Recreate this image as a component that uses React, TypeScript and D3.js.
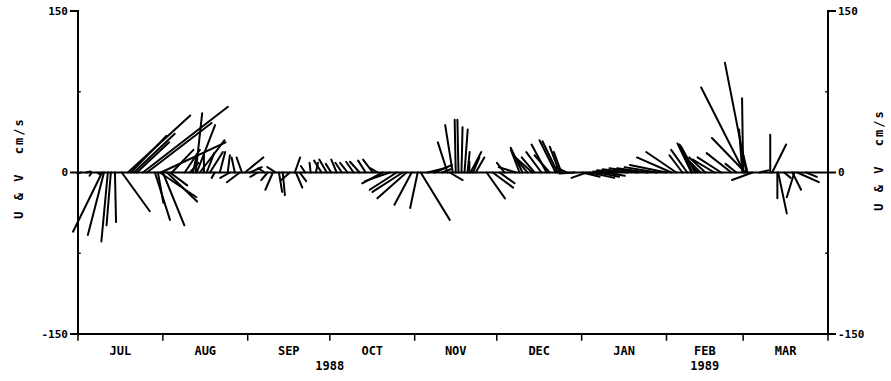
import React from "react";
import * as d3 from "d3";

// Stick plot data: day offset from 1 Jul 1988, east (u) and north (v) components in cm/s
const days = [1, 3, 5, 7, 8.8, 9.5, 10.9, 12, 13.5, 16, 18.2, 19.3, 20.4, 21.5, 23.7, 25.2, 28.1, 29.2, 29.9, 30.3, 31, 32.5, 33.6, 34.3,
  39, 40.9, 42, 43, 43.4, 44.5, 46, 47, 48.2, 50, 51.8, 54.7, 55.5, 57.3, 59.1, 59.9, 61, 62.8,
  65.7, 68.2, 69.3, 71.2, 72.3, 73.4, 74.8, 77.4, 79.2, 79.6, 81, 83, 85, 86.9, 89, 90.9,
  92.5, 94.5, 96.4, 98.5, 100.7, 102.9, 105.1, 107.7, 109.5, 111.3, 113.9, 116.4, 118.6, 120, 121.9, 124.1, 125.2,
  127.7, 130.3, 133, 135, 135.8, 136.9, 138, 139, 140.1, 141.2, 142.3, 143, 143.4, 144.3, 145.3,
  149.3, 151.5, 154, 155.8, 160, 161.3, 162.4, 164.2, 166, 166.8, 169.3, 171.2, 172.3, 174.5, 175.2, 175.9, 176.6, 178.5,
  181.4, 184.3, 185.8, 186.9, 189.8, 192.3, 194.5, 197.1, 200.7, 204.4, 208, 211.5,
  215, 216.8, 218.6, 220.8, 222.6, 224.1, 224.5, 225.5, 226.3, 227.4, 229.2, 232.5, 235, 238.7, 240.5, 242.7, 243, 243.4, 243.8, 244.2, 244.6, 246.4,
  249, 252.9, 253.6, 255.5, 255.8, 258, 261, 261.7, 262.8, 266];
const uVals = [-3, 4, -2, 3, -27, -15, -6, -4, 1, 26, 58, 33, 38, 30, 79, 60, 14, 5, 34, 60, 20, 28, 16, 20,
  14, 8, 3, 6, 17, 23, 0, 7, 12, -3, 5, 2, -9, -3, -12, -5, 17, 11,
  -7, -6, -6, -7, -8, 3, 2, -8, 5, 6, 6, -4, -1, 2, -7, -7,
  -5, -5, -6, -7, -7, -9, -7, -9, -7, -19, -23, -25, -28, -27, -16, -7, 27,
  16, 16, 8, -9, 12, -7, -1, -1, 1, 3, 2, 0, 10, 6, 8,
  17, 19, 14, -7, -16, -8, -11, -10, -17, -12, -14, -14, -14, -15, -14, -9, -7, -10,
  -14, 16, -14, 23, 20, 19, -16, -19, -23, -26, -28, -30,
  -34, -32, -28, -12, -15, -13, -12, -13, -12, -12, -15, -20, -22, -23, -10, -3, -1, -40, -31, -20, -5, -19,
  8, 0, 13, 0, 8, 6, 8, -7, 20, 10];
const vVals = [-1, 1, -3, -2, -55, -58, -64, -49, -46, -36, 53, 34, 36, 28, 61, 46, -44, -28, -23, 28, -49, -27, -12, 21,
  21, 9, 14, 55, 44, 30, 16, 18, 19, -5, 19, 16, -5, 14, -9, 14, 14, 5,
  -4, 4, -7, -16, 5, -18, -21, -7, 14, -14, -8, 6, 9, 9, 11, 12,
  8, 12, 9, 9, 10, 10, 11, 12, 4, -10, -8, -16, -18, -24, -30, -33, -44,
  4, 7, 3, 28, -7, 44, 49, 49, 42, 40, 19, 10, 19, 14, 14,
  -24, -14, -10, 9, 5, 21, 23, 12, 15, 14, 19, 26, 16, 30, 29, 24, 19, 5,
  -1, -4, -5, -5, -4, -3, 1, 2, 3, 4, 4, 5,
  7, 14, 19, 16, 21, 27, 26, 24, 16, 12, 14, 12, 14, 18, 8, 40, 69, 79, 32, 102, 21, -7,
  2, 35, 26, -24, -38, -5, -16, -23, -9, -4];

const monthLabels = ["JUL", "AUG", "SEP", "OCT", "NOV", "DEC", "JAN", "FEB", "MAR"];
const yearLabels = [{ text: "1988", date: [1988, 9, 1] }, { text: "1989", date: [1989, 1, 15] }];
const yTicks = [-150, 0, 150];
const yMinorTicks = [-75, 75];
const axisTitle = "U & V  cm/s";

const W = 891, H = 381;
const left = 78, right = 828, top = 11, bottom = 334;
const FONT = "'DejaVu Sans Mono', monospace";

export default function App() {
  const t0 = new Date(1988, 6, 1);
  const t1 = new Date(1989, 3, 1);
  const x = d3.scaleTime().domain([t0, t1]).range([left, right]);
  const y = d3.scaleLinear().domain([-150, 150]).range([bottom, top]);
  const y0 = y(0);
  const monthStarts = d3.timeMonth.range(t0, d3.timeDay.offset(t1, 1));
  const months = d3.timeMonth.range(t0, t1);

  const sticks = days.map((d, i) => {
    const date = new Date(t0.getTime() + d * 86400000);
    const bx = x(date);
    return { x1: bx, y1: y0, x2: bx + (y0 - y(uVals[i])), y2: y(vVals[i]) };
  });

  return (
    <svg width={W} height={H} style={{ position: "absolute", left: 0, top: 0, background: "#fff" }}>
      <g stroke="#000" fill="none" strokeLinecap="square">
        {/* axes */}
        <line x1={left} y1={top} x2={left} y2={bottom} strokeWidth={2} />
        <line x1={right} y1={top} x2={right} y2={bottom} strokeWidth={2} />
        <line x1={left} y1={bottom} x2={right} y2={bottom} strokeWidth={2} />
        <line x1={left} y1={y0} x2={right} y2={y0} strokeWidth={2} />
        {yTicks.map((t) => (
          <g key={t}>
            <line x1={left - 7} x2={left} y1={y(t)} y2={y(t)} strokeWidth={2} />
            <line x1={right} x2={right + 7} y1={y(t)} y2={y(t)} strokeWidth={2} />
          </g>
        ))}
        {yMinorTicks.map((t) => (
          <g key={t}>
            <line x1={left} x2={left + 2} y1={y(t)} y2={y(t)} strokeWidth={1.5} />
            <line x1={right - 2} x2={right} y1={y(t)} y2={y(t)} strokeWidth={1.5} />
          </g>
        ))}
        {monthStarts.map((m, i) => (
          <line key={i} x1={x(m)} x2={x(m)} y1={bottom} y2={bottom + 6} strokeWidth={1.5} />
        ))}
        {/* sticks */}
        {sticks.map((s, i) => (
          <line key={i} x1={s.x1} y1={s.y1} x2={s.x2} y2={s.y2} strokeWidth={2} strokeLinecap="round" />
        ))}
      </g>
      <g fontFamily={FONT} fontWeight="bold" fill="#000">
        {yTicks.map((t) => (
          <g key={t}>
            <text x={left - 10} y={y(t)} dy="0.35em" textAnchor="end" fontSize={11}>{t}</text>
            <text x={right + 10} y={y(t)} dy="0.35em" textAnchor="start" fontSize={11}>{t}</text>
          </g>
        ))}
        {months.map((m, i) => {
          const mid = new Date((m.getTime() + d3.timeMonth.offset(m, 1).getTime()) / 2);
          return (
            <text key={i} x={x(mid)} y={355} textAnchor="middle" fontSize={12}>{monthLabels[i]}</text>
          );
        })}
        {yearLabels.map((yl) => (
          <text key={yl.text} x={x(new Date(yl.date[0], yl.date[1], yl.date[2]))} y={370} textAnchor="middle" fontSize={12}>{yl.text}</text>
        ))}
        <text transform={`translate(23,168) rotate(-90)`} textAnchor="middle" fontSize={12} letterSpacing={2} xmlSpace="preserve">{axisTitle}</text>
        <text transform={`translate(883,160) rotate(-90)`} textAnchor="middle" fontSize={12} letterSpacing={2} xmlSpace="preserve">{axisTitle}</text>
      </g>
    </svg>
  );
}
